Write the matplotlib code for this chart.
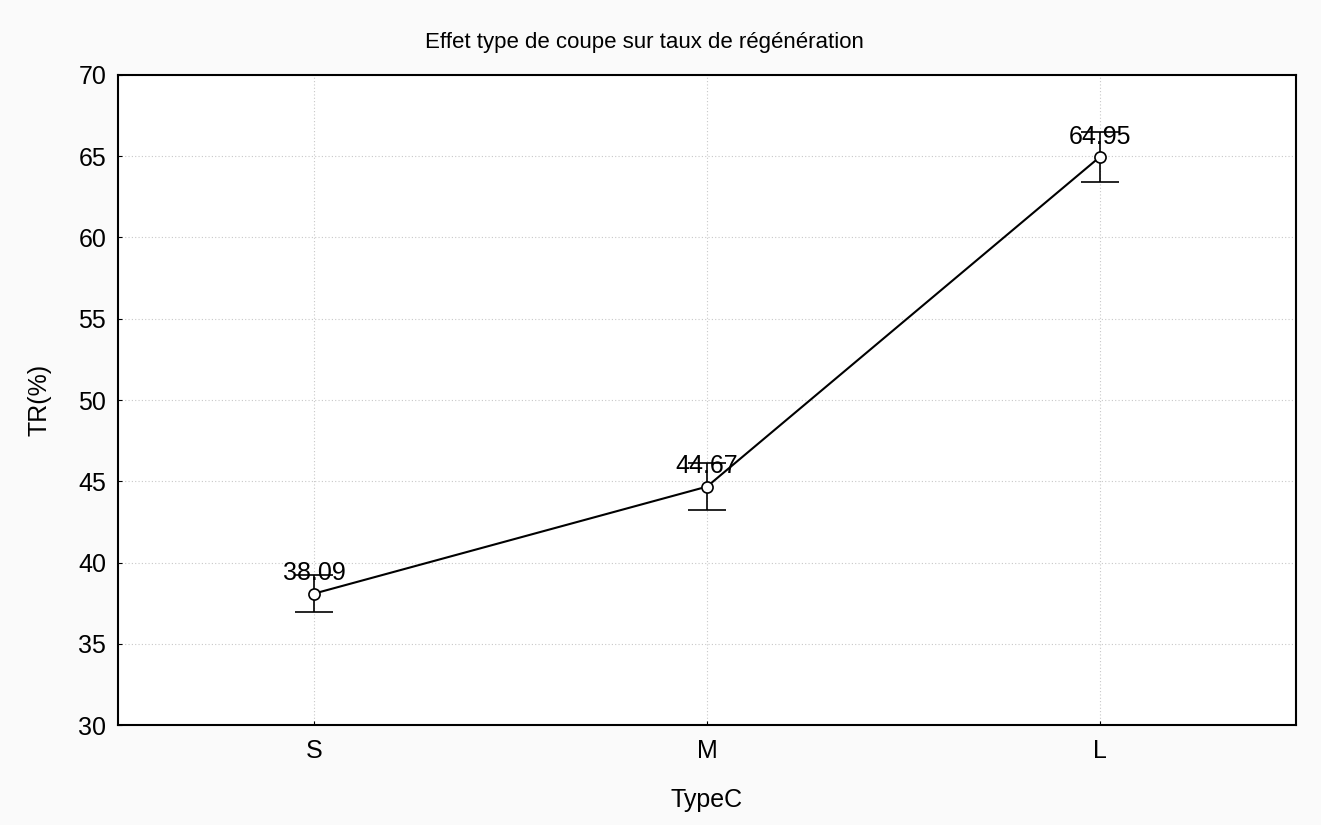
import numpy as np
import matplotlib.pyplot as plt

plt.rcParams['font.family'] = ['Liberation Sans', 'DejaVu Sans']

# data
categories = ['S', 'M', 'L']
means = [38.09, 44.67, 64.95]
err = [1.15, 1.46, 1.52]
yticks = [30, 35, 40, 45, 50, 55, 60, 65, 70]

fig = plt.figure(figsize=(13.21, 8.25), dpi=100, facecolor='#fafafa')
ax = fig.add_axes([0.0893, 0.1212, 0.8918, 0.7879])
ax.set_facecolor('white')

x = np.arange(len(categories))
ax.errorbar(x, means, yerr=err, color='black', lw=1.5, capsize=14, capthick=1.5,
            elinewidth=1.2, marker='o', ms=8, mfc='white', mec='black', mew=1.2, zorder=3)

for xi, m in zip(x, means):
    ax.annotate(f'{m:.2f}', (xi, m), xytext=(0, 14.5), textcoords='offset points',
                ha='center', va='center', fontsize=18, zorder=4)

ax.set_xlim(-0.5, 2.5)
ax.set_ylim(30, 70)
ax.set_xticks(x)
ax.set_xticklabels(categories)
ax.set_yticks(yticks)
ax.tick_params(direction='in', length=3, labelsize=18)
ax.tick_params(axis='y', pad=8.5)
ax.tick_params(axis='x', pad=10)
ax.grid(True, color='#c8c8c8', linestyle=(0, (1, 2)), lw=0.8)
for sp in ax.spines.values():
    sp.set_linewidth(1.5)

ax.set_xlabel('TypeC', fontsize=18, labelpad=18)
ax.set_ylabel('TR(%)', fontsize=18, labelpad=19)
fig.text(0.488, 0.949, 'Effet type de coupe sur taux de régénération',
         fontsize=16, ha='center', va='center')

plt.savefig('out.png', dpi=100, facecolor=fig.get_facecolor())
